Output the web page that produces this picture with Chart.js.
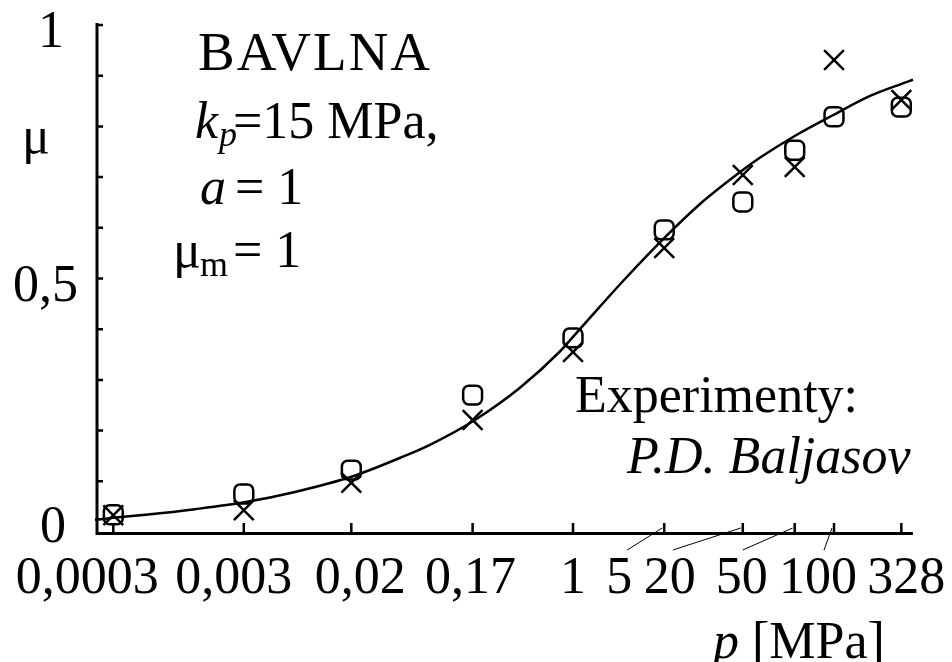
<!DOCTYPE html>
<html>
<head>
<meta charset="utf-8">
<script src="https://cdn.jsdelivr.net/npm/chart.js@4"></script>
<style>
  html, body { margin: 0; padding: 0; background: #fff; }
</style>
</head>
<body>
<canvas id="muChart" width="952" height="662"></canvas>
<script>
// x axis ticks (p in MPa, log scale) and their printed labels
const pTicks = [0.0003, 0.003, 0.02, 0.17, 1, 5, 20, 50, 100, 328];
const pTickLabels = ['0,0003', '0,003', '0,02', '0,17', '1', '5', '20', '50', '100', '328'];
// y axis
const muTicks = [0.1, 0.2, 0.3, 0.4, 0.5, 0.6, 0.7, 0.8, 0.9, 1];
const muLabelValues = [0, 0.5, 1];
const muLabels = ['0', '0,5', '1'];

// measured points (Baljasov), both series at the pTicks pressures
const muSquares = [0.034, 0.075, 0.122, 0.270, 0.383, 0.596, 0.651, 0.753, 0.819, 0.838];
const muCrosses = [0.033, 0.043, 0.097, 0.221, 0.355, 0.560, 0.704, 0.720, 0.931, 0.852];

// fitted curve
const curveP = [0.000217, 0.0003, 0.00053, 0.00127, 0.0031, 0.0074, 0.0206, 0.047, 0.080, 0.177,
                0.39, 0.80, 1.0, 1.6, 2.5, 5.1, 9.4, 20, 27, 50, 98, 189, 330, 403];
const curveMu = [0.024, 0.028, 0.034, 0.045, 0.059, 0.079, 0.110, 0.146, 0.172, 0.221,
                 0.284, 0.357, 0.385, 0.444, 0.499, 0.582, 0.647, 0.714, 0.738, 0.781, 0.822, 0.860, 0.884, 0.892];

const serif = '"Liberation Serif", "Times New Roman", serif';

const axesAndText = {
  id: 'axesAndText',
  afterDraw(chart) {
    const ctx = chart.ctx;
    const xs = chart.scales.x, ys = chart.scales.y;
    const a = chart.chartArea;
    const y0 = ys.getPixelForValue(0);
    ctx.save();
    ctx.strokeStyle = '#000';
    ctx.fillStyle = '#000';
    ctx.lineCap = 'butt';

    // axis lines
    ctx.lineWidth = 3;
    ctx.beginPath();
    ctx.moveTo(a.left, a.top - 2);
    ctx.lineTo(a.left, y0 + 1.5);
    ctx.lineTo(a.right, y0 + 1.5);
    ctx.stroke();

    // inward ticks
    ctx.lineWidth = 2.5;
    ctx.beginPath();
    muTicks.forEach(v => {
      const py = ys.getPixelForValue(v);
      ctx.moveTo(a.left, py);
      ctx.lineTo(a.left + 6, py);
    });
    pTicks.forEach(v => {
      const px = xs.getPixelForValue(v);
      ctx.moveTo(px, y0);
      ctx.lineTo(px, y0 - 9);
    });
    ctx.stroke();

    // x tick labels (some shifted, with leader lines)
    const labelShift = [-26, -10, 9, -2, 0, -45, -73, -53, -16, 5];
    const leaderFrom = [null, null, null, null, null, 8, 3, 1, 6, null];
    ctx.font = '52px ' + serif;
    ctx.textAlign = 'center';
    ctx.textBaseline = 'alphabetic';
    ctx.lineWidth = 1;
    pTicks.forEach((v, i) => {
      const px = xs.getPixelForValue(v);
      const cx = px + labelShift[i];
      ctx.fillText(pTickLabels[i], cx, 593);
      if (leaderFrom[i] !== null) {
        ctx.beginPath();
        ctx.moveTo(cx + leaderFrom[i], 550);
        ctx.lineTo(px - 2, y0 - 4);
        ctx.stroke();
      }
    });

    // y tick labels
    const yLabelRight = [66, 78, 64];
    const yLabelDrop = [10, 22, 22];
    ctx.textAlign = 'right';
    muLabelValues.forEach((v, i) => {
      ctx.fillText(muLabels[i], yLabelRight[i], ys.getPixelForValue(v) + yLabelDrop[i]);
    });

    // axis titles
    ctx.textAlign = 'left';
    ctx.font = '52px ' + serif;
    ctx.fillText('\u03bc', 22, 153);
    ctx.font = 'italic 52px ' + serif;
    ctx.fillText('p', 713, 658);
    ctx.font = '52px ' + serif;
    ctx.fillText('[MPa]', 752, 658);

    // annotation block
    ctx.font = '55px ' + serif;
    ctx.letterSpacing = '2px';
    ctx.fillText('BAVLNA', 198, 70);
    ctx.letterSpacing = '0px';
    ctx.font = 'italic 52px ' + serif;
    ctx.fillText('k', 195, 138);
    ctx.font = 'italic 36px ' + serif;
    ctx.fillText('p', 219, 146);
    ctx.font = '52px ' + serif;
    ctx.fillText('=15 MPa,', 233, 138);
    ctx.font = 'italic 52px ' + serif;
    ctx.fillText('a', 200, 204);
    ctx.font = '52px ' + serif;
    ctx.fillText('= 1', 235, 204);
    ctx.fillText('\u03bc', 173, 267);
    ctx.font = '36px ' + serif;
    ctx.fillText('m', 200, 276);
    ctx.font = '52px ' + serif;
    ctx.fillText('= 1', 233, 267);

    ctx.fillText('Experimenty:', 575, 412);
    ctx.font = 'italic 52px ' + serif;
    ctx.fillText('P.D. Baljasov', 627, 473);
    ctx.restore();
  }
};

const ctx = document.getElementById('muChart').getContext('2d');
const muChart = new Chart(ctx, {
  type: 'scatter',
  data: {
    datasets: [
      {
        type: 'line',
        label: 'fit',
        data: curveP.map((p, i) => ({ x: p, y: curveMu[i] })),
        borderColor: '#000',
        borderWidth: 2.5,
        pointRadius: 0,
        cubicInterpolationMode: 'monotone',
        fill: false,
        clip: false
      },
      {
        label: 'squares',
        data: pTicks.map((p, i) => ({ x: p, y: muSquares[i] })),
        pointStyle: 'rectRounded',
        pointRadius: 11,
        pointBorderWidth: 2.5,
        borderColor: '#000',
        backgroundColor: 'rgba(0,0,0,0)',
        clip: false
      },
      {
        label: 'crosses',
        data: pTicks.map((p, i) => ({ x: p, y: muCrosses[i] })),
        pointStyle: 'crossRot',
        pointRadius: 14,
        pointBorderWidth: 2.5,
        borderColor: '#000',
        backgroundColor: '#000',
        clip: false
      }
    ]
  },
  options: {
    responsive: false,
    animation: false,
    devicePixelRatio: 1,
    layout: {
      padding: { left: 97, right: 39, top: 25, bottom: 130 }
    },
    scales: {
      x: { type: 'logarithmic', min: 0.000225, max: 403, display: false },
      y: { type: 'linear', min: 0, max: 1, display: false }
    },
    plugins: {
      legend: { display: false },
      tooltip: { enabled: false }
    }
  },
  plugins: [axesAndText]
});
</script>
</body>
</html>
